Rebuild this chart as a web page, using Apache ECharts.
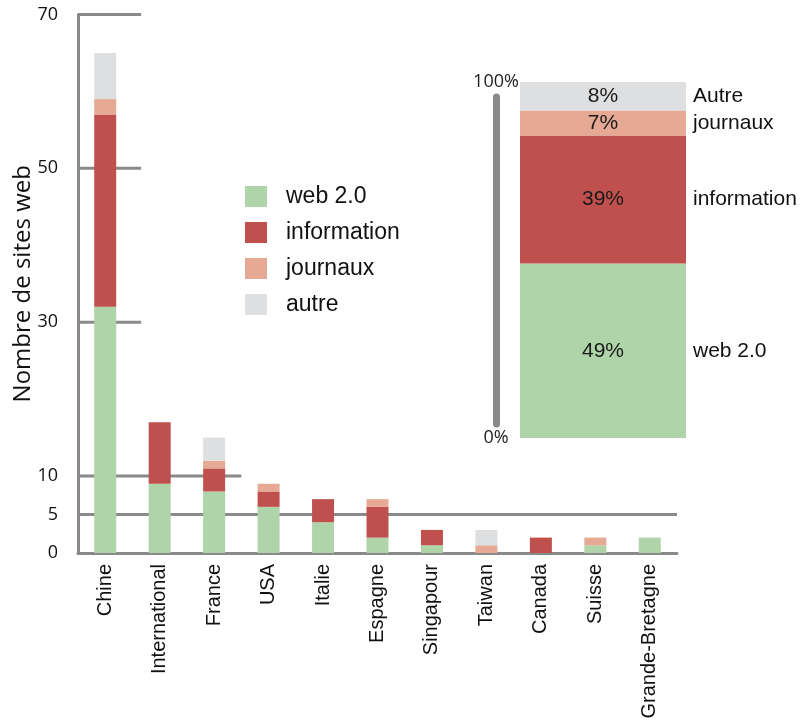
<!DOCTYPE html>
<html>
<head>
<meta charset="utf-8">
<script src="https://cdn.jsdelivr.net/npm/echarts@6/dist/echarts.min.js"></script>
<style>
html,body{margin:0;padding:0;background:#fff;}
#chart{width:804px;height:721px;}
</style>
</head>
<body>
<div id="chart"></div>
<script>
// ---- data ----
const categories = ['Chine','International','France','USA','Italie','Espagne','Singapour','Taiwan','Canada','Suisse','Grande-Bretagne'];
const web20 =       [32, 9, 8, 6, 4, 2, 1, 0, 0, 1, 2];
const information = [25, 8, 3, 2, 3, 4, 2, 0, 2, 0, 0];
const journaux =    [ 2, 0, 1, 1, 0, 1, 0, 1, 0, 1, 0];
const autre =       [ 6, 0, 3, 0, 0, 0, 0, 2, 0, 0, 0];
const seriesNames = ['web 2.0','information','journaux','autre'];
const yTickValues = [0, 5, 10, 30, 50, 70];

const shareNames  = ['web 2.0','information','journaux','Autre'];
const shareValues = [49, 36, 7, 8];
const shareLabels = ['49%','39%','7%','8%'];
const shareTicks  = [0, 100];

// ---- styling / layout ----
const colors = ['#afd4a9', '#c0504d', '#e5a994', '#dedfe1'];
const axisGray = '#8a8a8a';
const sans = 'Liberation Sans, Arial, sans-serif';
const sans2 = 'Open Sans, sans-serif';
// how far (in category widths) each horizontal guide line reaches
const guideReach = {70: 1.16, 50: 1.16, 30: 1.16, 10: 3.0, 5: 11};

const mainData = [web20, information, journaux, autre];

const series = [];
mainData.forEach((arr, i) => {
  series.push({
    name: seriesNames[i], type: 'bar', stack: 'main',
    xAxisIndex: 0, yAxisIndex: 0, barWidth: 22, z: 3,
    itemStyle: {color: colors[i]},
    data: arr
  });
});
Object.keys(guideReach).forEach(k => {
  const v = Number(k);
  series.push({
    type: 'line', xAxisIndex: 1, yAxisIndex: 0, silent: true, z: 1,
    symbol: 'none', lineStyle: {color: axisGray, width: 3},
    data: [[0, v], [guideReach[k], v]]
  });
});
// inset stacked share bar
let cum = 0;
const shareMids = shareValues.map(v => { const m = cum + v / 2; cum += v; return m; });
shareValues.forEach((v, i) => {
  series.push({
    name: 'part ' + shareNames[i], type: 'bar', stack: 'share',
    xAxisIndex: 2, yAxisIndex: 1, barWidth: '100%',
    itemStyle: {color: colors[i]},
    label: {show: true, position: 'inside', formatter: () => shareLabels[i],
            fontFamily: sans, fontSize: 21, color: '#1a1a1a'},
    data: [v]
  });
});

const option = {
  animation: false,
  legend: {
    data: seriesNames, orient: 'vertical', left: 245, top: 185, padding: 0,
    icon: 'rect', itemWidth: 22, itemHeight: 21, itemGap: 13,
    textStyle: {fontFamily: sans, fontSize: 23, color: '#111', padding: [0, 0, 0, 14]}
  },
  grid: [
    {left: 78, right: 127, top: 14.5, bottom: 168, outerBoundsMode: 'none'},
    {left: 520, width: 166, top: 82, height: 356, outerBoundsMode: 'none'},
    {left: 496, width: 1, top: 97, height: 327, outerBoundsMode: 'none'}
  ],
  xAxis: [
    {type: 'category', gridIndex: 0, data: categories,
     axisLine: {lineStyle: {color: axisGray, width: 3}}, axisTick: {show: false},
     axisLabel: {rotate: 90, margin: 11, fontFamily: sans, fontSize: 20, color: '#111', interval: 0}},
    {type: 'value', gridIndex: 0, min: 0, max: 11, show: false},
    {type: 'category', gridIndex: 1, data: [''], show: false},
    {type: 'value', gridIndex: 2, min: 0, max: 1, show: false}
  ],
  yAxis: [
    {type: 'value', gridIndex: 0, min: 0, max: 70,
     name: 'Nombre de sites web', nameLocation: 'middle', nameGap: 43, nameMoveOverlap: false,
     nameTextStyle: {fontFamily: sans2, fontSize: 24, color: '#111'},
     axisLine: {show: true, lineStyle: {color: axisGray, width: 3}},
     axisTick: {show: false}, splitLine: {show: false},
     axisLabel: {customValues: yTickValues, margin: 20, fontFamily: sans2, fontSize: 18, color: '#111'}},
    {type: 'value', gridIndex: 1, min: 0, max: 100,
     axisLine: {show: false}, axisTick: {show: false}, splitLine: {show: false},
     axisLabel: {customValues: shareTicks, formatter: v => v + '%', align: 'center', margin: 24,
                 fontFamily: sans2, fontSize: 18, color: '#222'}},
    {type: 'value', gridIndex: 1, position: 'right', min: 0, max: 100,
     axisLine: {show: false}, axisTick: {show: false}, splitLine: {show: false},
     axisLabel: {customValues: shareMids, margin: 7,
                 formatter: v => shareNames[shareMids.indexOf(v)] || '',
                 fontFamily: sans, fontSize: 21, color: '#111'}},
    {type: 'value', gridIndex: 2, min: 0, max: 1,
     axisLine: {show: true, lineStyle: {color: axisGray, width: 7}},
     axisTick: {show: false}, axisLabel: {show: false}, splitLine: {show: false}}
  ],
  series: series
};
const chart = echarts.init(document.getElementById('chart'));
chart.setOption(option);
</script>
</body>
</html>
